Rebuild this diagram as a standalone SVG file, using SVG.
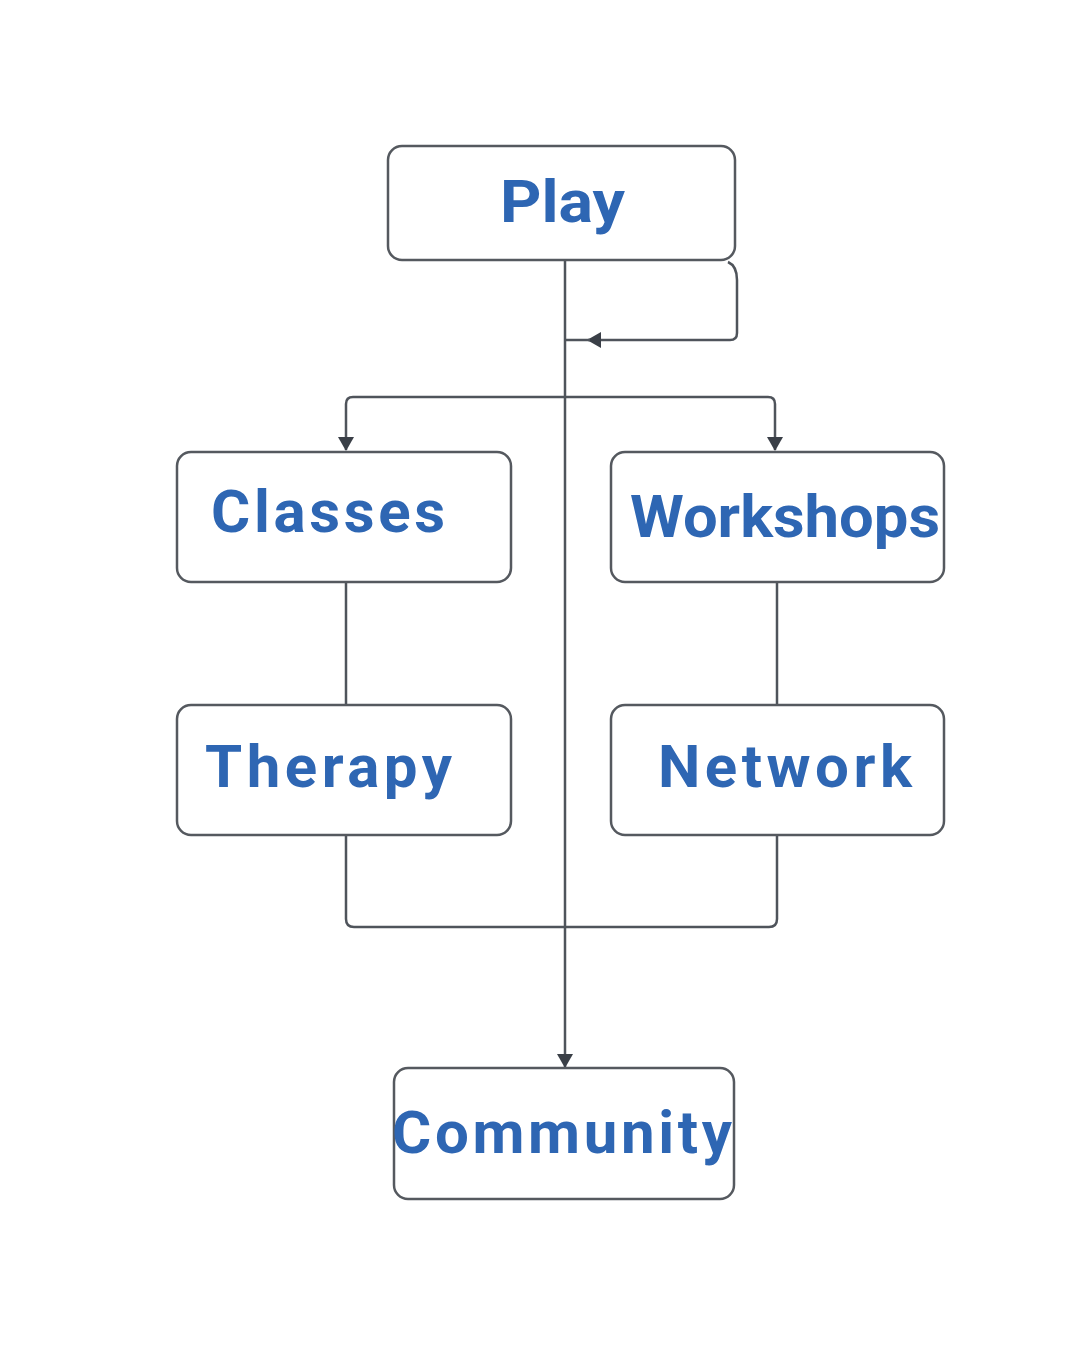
<svg xmlns="http://www.w3.org/2000/svg" width="1080" height="1350" viewBox="0 0 1080 1350">
<style>
.box{fill:#fff;stroke:#55595f;stroke-width:2.5}
.lbl{font-family:Roboto,"Liberation Sans",sans-serif;font-weight:bold;fill:#2E66B3;font-size:60px}
.ln{fill:none;stroke:#4f545b;stroke-width:2.5}
</style>
<defs>
<marker id="ahb" markerWidth="14" markerHeight="16" refX="13" refY="8" orient="auto" markerUnits="userSpaceOnUse" viewBox="0 0 14 16">
<path d="M0,0 L14,8 L0,16 z" fill="#3a3f47"/>
</marker>
</defs>
<rect width="1080" height="1350" fill="#fff"/>
<g id="connectors">
<path class="ln" d="M565,260 V1067" marker-end="url(#ahb)"/>
<path class="ln" d="M728,262 Q737,266 737,280 V333 Q737,340 730,340 H588" marker-end="url(#ahb)"/>
<path class="ln" d="M590,340 H566"/>
<path class="ln" d="M565,397 H353 Q346,397 346,404 V450" marker-end="url(#ahb)"/>
<path class="ln" d="M565,397 H768 Q775,397 775,404 V450" marker-end="url(#ahb)"/>
<path class="ln" d="M346,582 V705"/>
<path class="ln" d="M777,582 V705"/>
<path class="ln" d="M346,835 V919 Q346,927 354,927 H769 Q777,927 777,919 V835"/>
</g>
<g id="node-play">
<rect class="box" x="388" y="146" width="347" height="114" rx="14"/>
<text class="lbl" x="500" y="222" textLength="125" lengthAdjust="spacingAndGlyphs">Play</text>
</g>
<g id="node-classes">
<rect class="box" x="177" y="452" width="334" height="130" rx="14"/>
<text class="lbl" x="211" y="532" textLength="234" lengthAdjust="spacing">Classes</text>
</g>
<g id="node-workshops">
<rect class="box" x="611" y="452" width="333" height="130" rx="14"/>
<text class="lbl" x="630" y="537" textLength="310" lengthAdjust="spacingAndGlyphs">Workshops</text>
</g>
<g id="node-therapy">
<rect class="box" x="177" y="705" width="334" height="130" rx="14"/>
<text class="lbl" x="205" y="787" textLength="247" lengthAdjust="spacing">Therapy</text>
</g>
<g id="node-network">
<rect class="box" x="611" y="705" width="333" height="130" rx="14"/>
<text class="lbl" x="658" y="787" textLength="254" lengthAdjust="spacing">Network</text>
</g>
<g id="node-community">
<rect class="box" x="394" y="1068" width="340" height="131" rx="14"/>
<text class="lbl" x="392" y="1153" textLength="340" lengthAdjust="spacing">Community</text>
</g>
</svg>
